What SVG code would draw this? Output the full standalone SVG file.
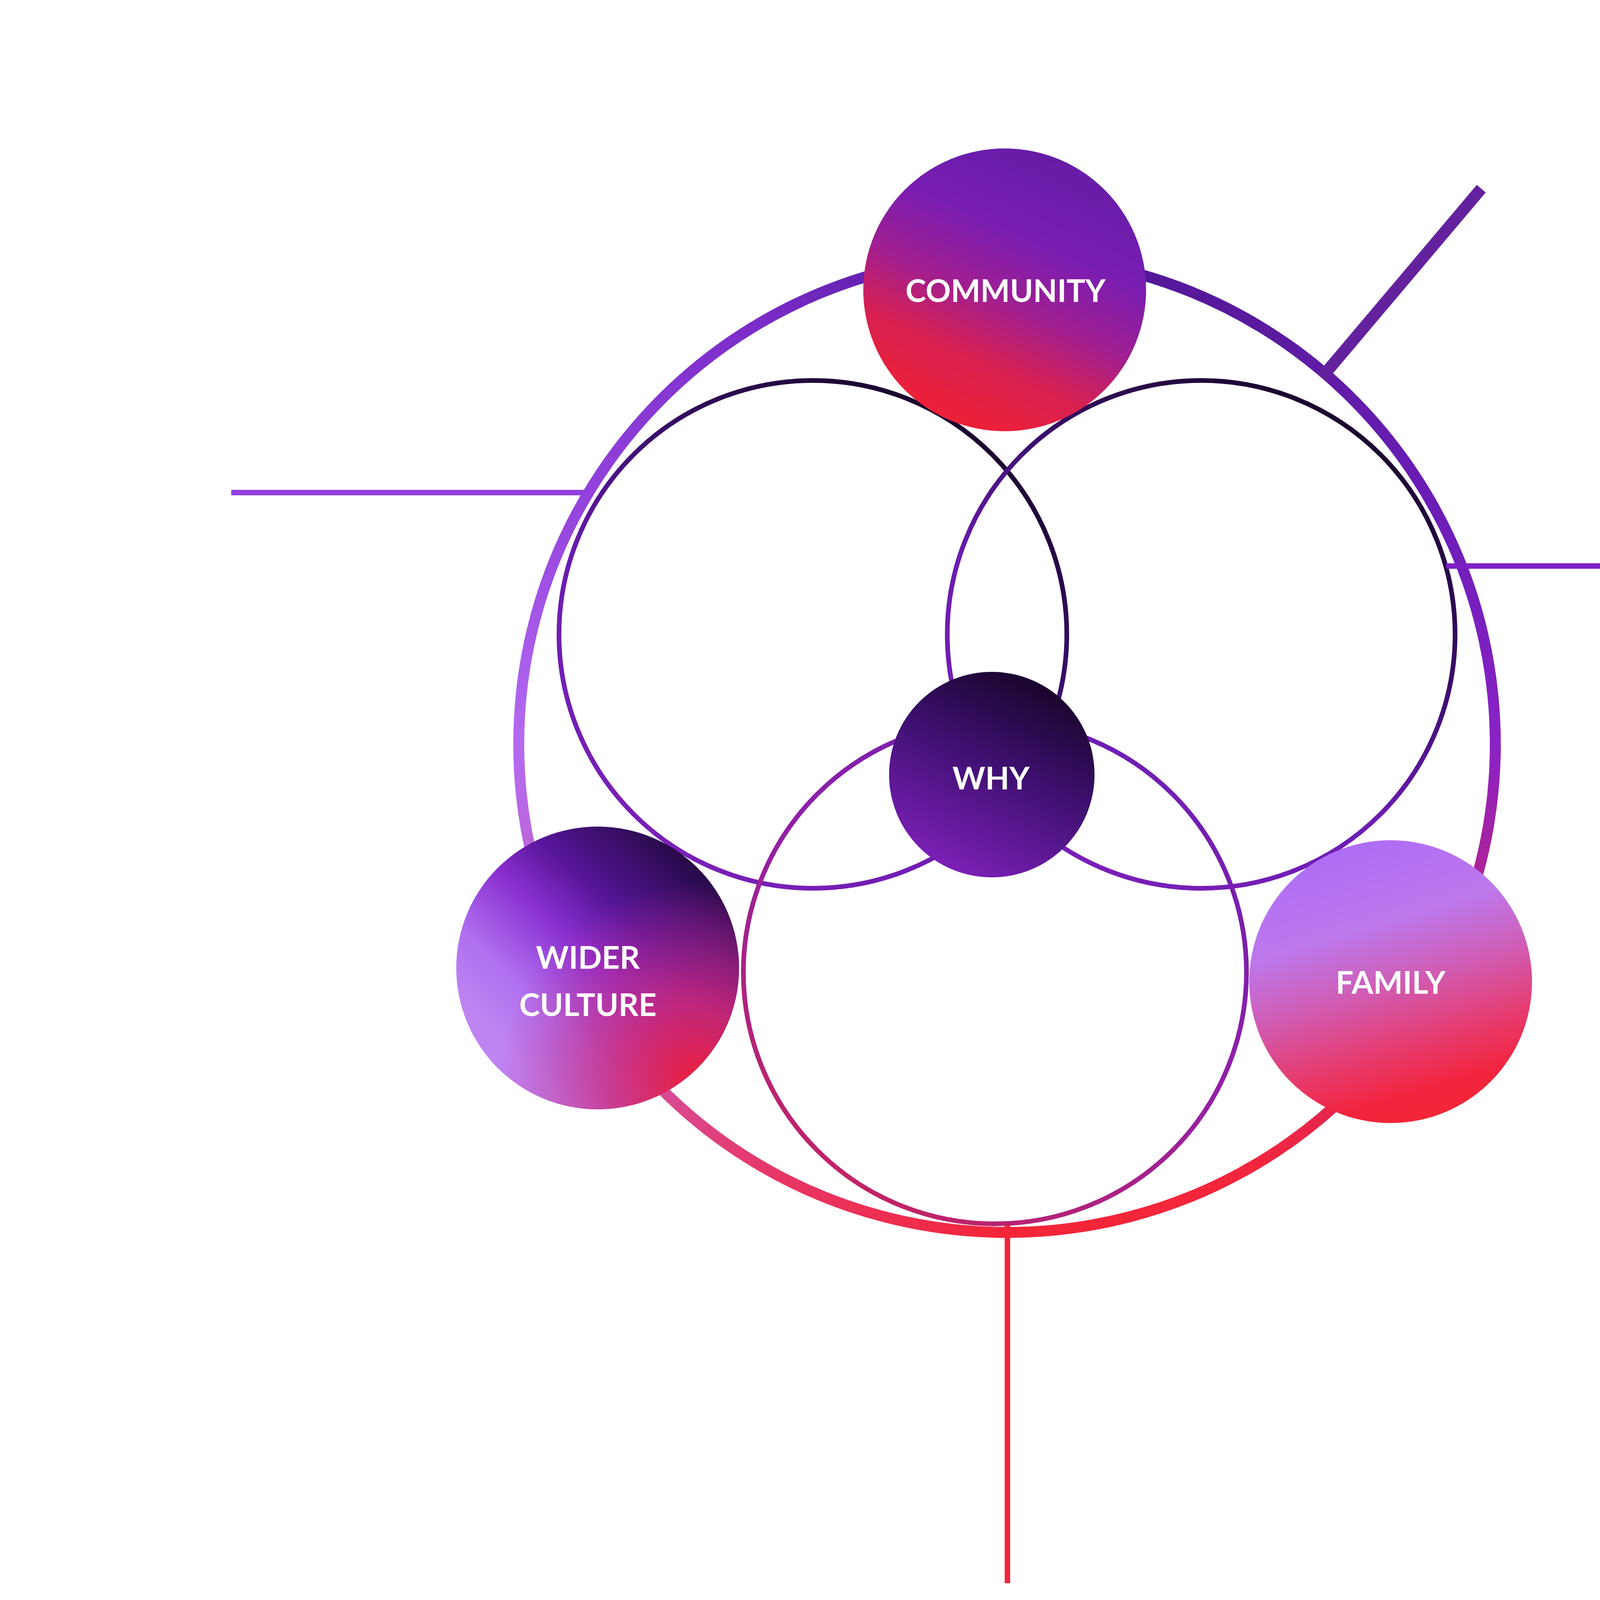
<svg xmlns="http://www.w3.org/2000/svg" width="5430" height="4468" viewBox="0 0 5430 4468">
<style>
.lbl{font-family:Lato,"Open Sans","Liberation Sans",sans-serif;font-weight:700;font-size:80px;fill:#ffffff;text-anchor:middle}
.ring{fill:none;stroke-width:28;stroke-linecap:butt}
.inner{fill:none;stroke-width:12}
.ln{stroke-linecap:butt}
</style>
<defs>
<linearGradient id="gCirc" x1="0.8" y1="0" x2="0.2" y2="1">
<stop offset="0" stop-color="#12031f"/><stop offset="0.35" stop-color="#3a0d6a"/><stop offset="0.6" stop-color="#6a1cb0"/><stop offset="1" stop-color="#7c20b8"/>
</linearGradient>
<linearGradient id="gBot" x1="0.8" y1="0" x2="0.2" y2="1">
<stop offset="0" stop-color="#6a1eb6"/><stop offset="0.5" stop-color="#9420a4"/><stop offset="1" stop-color="#c8245e"/>
</linearGradient>
<linearGradient id="gCom" x1="0.72" y1="0.05" x2="0.32" y2="0.95">
<stop offset="0" stop-color="#661ca6"/><stop offset="0.3" stop-color="#781db2"/><stop offset="0.55" stop-color="#a01f92"/><stop offset="0.78" stop-color="#d82050"/><stop offset="1" stop-color="#ec2038"/>
</linearGradient>
<linearGradient id="gWhy" x1="0.75" y1="0.05" x2="0.3" y2="0.95">
<stop offset="0" stop-color="#18052a"/><stop offset="0.45" stop-color="#3e1070"/><stop offset="1" stop-color="#7a1fb5"/>
</linearGradient>
<linearGradient id="gWid" x1="0.8" y1="0.05" x2="0.15" y2="0.75">
<stop offset="0" stop-color="#22083e"/><stop offset="0.35" stop-color="#561598"/><stop offset="0.55" stop-color="#8a30d0"/><stop offset="0.8" stop-color="#b070f0"/><stop offset="1" stop-color="#bf84f2"/>
</linearGradient>
<radialGradient id="gWidR" cx="0.85" cy="0.9" r="0.7">
<stop offset="0" stop-color="#ec1f3a" stop-opacity="1"/><stop offset="0.4" stop-color="#d22870" stop-opacity="0.8"/><stop offset="1" stop-color="#c02890" stop-opacity="0"/>
</radialGradient>
<linearGradient id="gFam" x1="0.35" y1="0" x2="0.65" y2="1">
<stop offset="0" stop-color="#ae6cf6"/><stop offset="0.3" stop-color="#bd78ec"/><stop offset="0.5" stop-color="#cf5eb8"/><stop offset="0.72" stop-color="#e63c70"/><stop offset="0.88" stop-color="#f22540"/><stop offset="1" stop-color="#f42535"/>
</linearGradient>
<linearGradient id="r1" gradientUnits="userSpaceOnUse" x1="2578" y1="655" x2="3203" y2="822.5"><stop offset="0" stop-color="#4a1592"/><stop offset="1" stop-color="#5a1a9e"/></linearGradient>
<linearGradient id="r2" gradientUnits="userSpaceOnUse" x1="3203" y1="822.5" x2="3660.5" y2="1280"><stop offset="0" stop-color="#5a1a9e"/><stop offset="1" stop-color="#6a1db6"/></linearGradient>
<linearGradient id="r3" gradientUnits="userSpaceOnUse" x1="3660.5" y1="1280" x2="3828" y2="1905"><stop offset="0" stop-color="#6a1db6"/><stop offset="1" stop-color="#8a22c6"/></linearGradient>
<linearGradient id="r4" gradientUnits="userSpaceOnUse" x1="3828" y1="1905" x2="3660.5" y2="2530"><stop offset="0" stop-color="#8a22c6"/><stop offset="1" stop-color="#d0246a"/></linearGradient>
<linearGradient id="r5" gradientUnits="userSpaceOnUse" x1="3660.5" y1="2530" x2="3203" y2="2987.5"><stop offset="0" stop-color="#d0246a"/><stop offset="1" stop-color="#f2263c"/></linearGradient>
<linearGradient id="r6" gradientUnits="userSpaceOnUse" x1="3203" y1="2987.5" x2="2578" y2="3155"><stop offset="0" stop-color="#f2263c"/><stop offset="1" stop-color="#f42538"/></linearGradient>
<linearGradient id="r7" gradientUnits="userSpaceOnUse" x1="2578" y1="3155" x2="1953" y2="2987.5"><stop offset="0" stop-color="#f42538"/><stop offset="1" stop-color="#e6386a"/></linearGradient>
<linearGradient id="r8" gradientUnits="userSpaceOnUse" x1="1953" y1="2987.5" x2="1495.5" y2="2530"><stop offset="0" stop-color="#e6386a"/><stop offset="1" stop-color="#c860c0"/></linearGradient>
<linearGradient id="r9" gradientUnits="userSpaceOnUse" x1="1495.5" y1="2530" x2="1328" y2="1905"><stop offset="0" stop-color="#c860c0"/><stop offset="1" stop-color="#b46af0"/></linearGradient>
<linearGradient id="r10" gradientUnits="userSpaceOnUse" x1="1328" y1="1905" x2="1495.5" y2="1280"><stop offset="0" stop-color="#b46af0"/><stop offset="1" stop-color="#9442dc"/></linearGradient>
<linearGradient id="r11" gradientUnits="userSpaceOnUse" x1="1495.5" y1="1280" x2="1953" y2="822.5"><stop offset="0" stop-color="#9442dc"/><stop offset="1" stop-color="#7a2cc8"/></linearGradient>
<linearGradient id="r12" gradientUnits="userSpaceOnUse" x1="1953" y1="822.5" x2="2578" y2="655"><stop offset="0" stop-color="#7a2cc8"/><stop offset="1" stop-color="#4a1592"/></linearGradient>
</defs>
<rect x="0" y="0" width="5430" height="4468" fill="#ffffff"/>
<g id="inner-circles">
<circle id="circle-left" class="inner" cx="2081" cy="1624" r="650" stroke="url(#gCirc)"/>
<circle id="circle-right" class="inner" cx="3075" cy="1624" r="650" stroke="url(#gCirc)"/>
<circle id="circle-bottom" class="inner" cx="2547" cy="2489" r="644" stroke="url(#gBot)"/>
</g>
<g id="connectors">
<g id="outer-ring">
<path class="ring" stroke="url(#r1)" d="M2578 655 A1250 1250 0 0 1 3221.8 833.5"/>
<path class="ring" stroke="url(#r2)" d="M3203 822.5 A1250 1250 0 0 1 3671.3 1299"/>
<path class="ring" stroke="url(#r3)" d="M3660.5 1280 A1250 1250 0 0 1 3827.8 1926.8"/>
<path class="ring" stroke="url(#r4)" d="M3828 1905 A1250 1250 0 0 1 3649.5 2548.8"/>
<path class="ring" stroke="url(#r5)" d="M3660.5 2530 A1250 1250 0 0 1 3184 2998.3"/>
<path class="ring" stroke="url(#r6)" d="M3203 2987.5 A1250 1250 0 0 1 2556.2 3154.8"/>
<path class="ring" stroke="url(#r7)" d="M2578 3155 A1250 1250 0 0 1 1934.2 2976.5"/>
<path class="ring" stroke="url(#r8)" d="M1953 2987.5 A1250 1250 0 0 1 1484.7 2511"/>
<path class="ring" stroke="url(#r9)" d="M1495.5 2530 A1250 1250 0 0 1 1328.2 1883.2"/>
<path class="ring" stroke="url(#r10)" d="M1328 1905 A1250 1250 0 0 1 1506.5 1261.2"/>
<path class="ring" stroke="url(#r11)" d="M1495.5 1280 A1250 1250 0 0 1 1972 811.7"/>
<path class="ring" stroke="url(#r12)" d="M1953 822.5 A1250 1250 0 0 1 2599.8 655.2"/>
</g>
<line class="ln" x1="592" y1="1261" x2="1504" y2="1261" stroke="#9040dc" stroke-width="14"/>
<line class="ln" x1="3702" y1="1449" x2="4616" y2="1449" stroke="#7f20c4" stroke-width="14"/>
<line class="ln" x1="3384" y1="966" x2="3792" y2="483" stroke="#64219e" stroke-width="30"/>
<line class="ln" x1="2579" y1="3137" x2="2579" y2="4053" stroke="#f4243a" stroke-width="14"/>
</g>
<g id="node-community">
<circle cx="2572" cy="742" r="362" fill="url(#gCom)"/>
<text class="lbl" x="2574" y="773">COMMUNITY</text>
</g>
<g id="node-why">
<circle cx="2539" cy="1983" r="263" fill="url(#gWhy)"/>
<text class="lbl" x="2537" y="2021">WHY</text>
</g>
<g id="node-wider-culture">
<circle cx="1530" cy="2478" r="362" fill="url(#gWid)"/>
<circle cx="1530" cy="2478" r="362" fill="url(#gWidR)"/>
<text class="lbl" x="1505" y="2480">WIDER</text>
<text class="lbl" x="1505" y="2601">CULTURE</text>
</g>
<g id="node-family">
<circle cx="3560" cy="2513" r="362" fill="url(#gFam)"/>
<text class="lbl" x="3560" y="2544">FAMILY</text>
</g>
</svg>
